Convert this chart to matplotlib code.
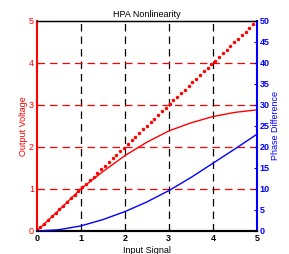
import matplotlib
matplotlib.use("Agg")
import matplotlib.pyplot as plt
import numpy as np

plt.rcParams['font.family'] = ['Liberation Sans', 'DejaVu Sans']

x_in = [0, 0.5, 1, 1.5, 2, 2.5, 3, 3.5, 4, 4.5, 5]
out_voltage = [0, 0.49, 1.0, 1.41, 1.79, 2.11, 2.38, 2.57, 2.72, 2.82, 2.88]
phase_diff = [0, 0.3, 1.2, 2.7, 4.6, 6.9, 9.6, 12.7, 16.1, 19.5, 23.0]
linear_x = [0, 5]
linear_y = [0, 5]

x_ticks = [0, 1, 2, 3, 4, 5]
left_ticks = [0, 1, 2, 3, 4, 5]
right_ticks = [0, 5, 10, 15, 20, 25, 30, 35, 40, 45, 50]

fig = plt.figure(figsize=(2.89, 2.54), dpi=100)
ax = fig.add_axes([0.127, 0.0906, 0.762, 0.828])
ax2 = ax.twinx()

# grid
for v in [1, 2, 3, 4]:
    ax.axvline(v, color='black', linestyle=(0, (6, 4)), linewidth=0.9, zorder=1)
    ax.axhline(v, color='red', linestyle=(0, (6, 4)), linewidth=0.9, zorder=1)

lx = np.linspace(linear_x[0], linear_x[1], 59)
ly = np.interp(lx, linear_x, linear_y)
ax.plot(lx, ly, linestyle='none', marker='o', markersize=2.5, markeredgewidth=0,
        color='red', zorder=3)
ax.plot(x_in, out_voltage, color='red', linewidth=1.0, zorder=3)
ax2.plot(x_in, phase_diff, color='blue', linewidth=1.0, zorder=3)

ax.set_xlim(0, 5)
ax.set_ylim(0, 5)
ax2.set_ylim(0, 50)
ax.set_xticks(x_ticks)
ax.set_yticks(left_ticks)
ax2.set_yticks(right_ticks)

ax.tick_params(axis='x', direction='in', labelsize=6.5, length=2, pad=2, colors='black')
for lbl in ax.get_xticklabels():
    lbl.set_fontweight('bold')
ax.tick_params(axis='y', direction='in', labelsize=6.5, length=2, pad=2, colors='red')
ax2.tick_params(axis='y', direction='in', labelsize=6.5, length=2, pad=2, colors='blue')
for lbl in ax2.get_yticklabels():
    lbl.set_fontweight('bold')

ax.spines['left'].set_color('red')
ax.spines['left'].set_linewidth(1.5)
ax2.spines['left'].set_visible(False)
ax2.spines['right'].set_color('blue')
ax2.spines['right'].set_linewidth(1.5)
ax.spines['right'].set_visible(False)
ax.spines['bottom'].set_linewidth(1.5)
ax2.spines['bottom'].set_linewidth(1.5)
ax.spines['top'].set_linewidth(1.0)

ax.set_xlabel('Input Signal', fontsize=6.5, labelpad=2)
ax.set_ylabel('Output Voltage', fontsize=6.5, color='red', labelpad=1)
ax2.set_ylabel('Phase Difference', fontsize=6.5, color='blue', labelpad=1)
ax.set_title('HPA Nonlinearity', fontsize=6.5, pad=3)

fig.savefig('out.png', dpi=100)
